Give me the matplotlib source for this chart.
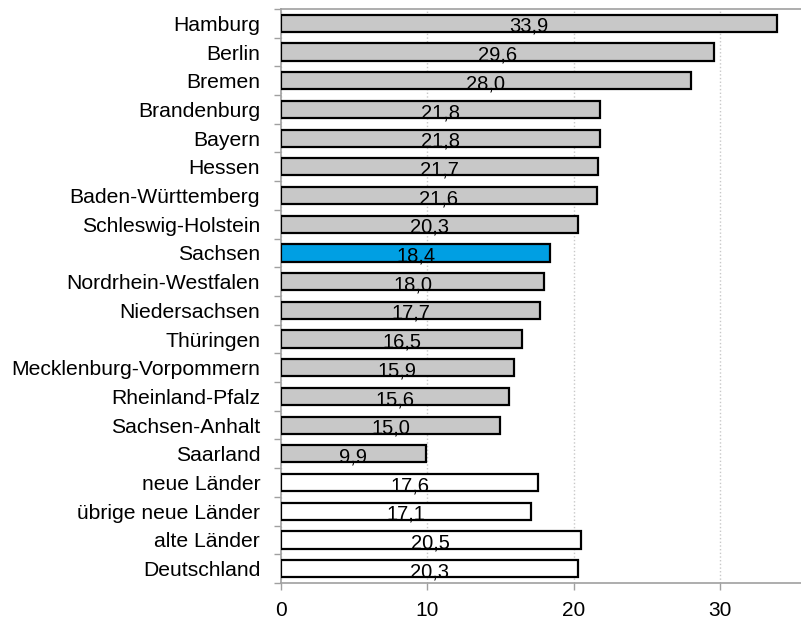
import matplotlib
matplotlib.use("Agg")
import matplotlib.pyplot as plt
import numpy as np

categories = ["Hamburg", "Berlin", "Bremen", "Brandenburg", "Bayern", "Hessen",
              "Baden-Württemberg", "Schleswig-Holstein", "Sachsen", "Nordrhein-Westfalen",
              "Niedersachsen", "Thüringen", "Mecklenburg-Vorpommern", "Rheinland-Pfalz",
              "Sachsen-Anhalt", "Saarland", "neue Länder", "übrige neue Länder",
              "alte Länder", "Deutschland"]
values = [33.9, 29.6, 28.0, 21.8, 21.8, 21.7, 21.6, 20.3, 18.4, 18.0, 17.7, 16.5,
          15.9, 15.6, 15.0, 9.9, 17.6, 17.1, 20.5, 20.3]
xticks = [0, 10, 20, 30]

colors = []
for i, c in enumerate(categories):
    if c == "Sachsen":
        colors.append("#009FE3")
    elif i >= 16:
        colors.append("white")
    else:
        colors.append("#C8C8C8")

plt.rcParams['font.family'] = ['Liberation Sans', 'DejaVu Sans']
fig = plt.figure(figsize=(8.01, 6.2), dpi=100)
ax = fig.add_axes([281/801, 1-583/620, (801-281)/801, (583-9)/620])

n = len(categories)
y = np.arange(n)
ax.barh(y, values, height=0.6, color=colors, edgecolor="black", linewidth=1.6, zorder=3)
for yi, v in zip(y, values):
    ax.text(v/2, yi + 0.3, f"{v:.1f}".replace(".", ","), ha="center", va="baseline",
            fontsize=14.5, color="black", zorder=4)

ax.set_ylim(n - 0.5, -0.5)
ax.set_xlim(0, 35.55)
ax.set_yticks(y)
ax.set_yticklabels(categories, fontsize=15.2)
ax.set_yticks(np.arange(n + 1) - 0.5, minor=True)
ax.tick_params(axis="y", which="major", length=0, pad=15)
ax.tick_params(axis="y", which="minor", length=5, color="#A0A0A0", width=1)
ax.set_xticks(xticks)
ax.set_xticklabels([str(t) for t in xticks], fontsize=15)
ax.tick_params(axis="x", length=5, color="#A0A0A0", width=1, pad=8)
ax.grid(axis="x", linestyle=":", color="#C8C8C8", linewidth=1, zorder=0)
for s in ["left", "bottom", "top"]:
    ax.spines[s].set_color("#A0A0A0")
    ax.spines[s].set_linewidth(1.2)
ax.spines["right"].set_visible(False)

fig.savefig("out.png", dpi=100)
